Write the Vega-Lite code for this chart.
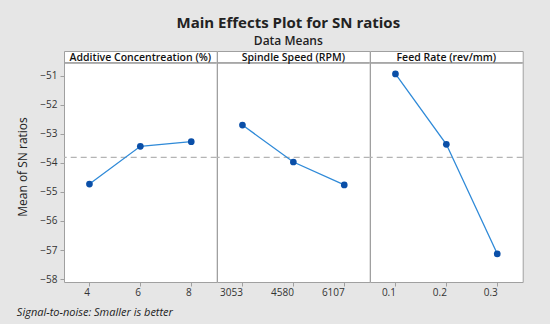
{
  "$schema": "https://vega.github.io/schema/vega-lite/v6.json",
  "background": "#e6e6e6",
  "padding": {"left": 16, "top": 15, "right": 26, "bottom": 6},
  "config": {
    "font": "Open Sans",
    "view": {"fill": "white", "stroke": "#a0a0a0", "strokeWidth": 1}
  },
  "title": {
    "text": "Signal-to-noise: Smaller is better",
    "orient": "bottom",
    "anchor": "start",
    "frame": "bounds",
    "fontSize": 11,
    "fontStyle": "italic",
    "fontWeight": "normal",
    "color": "#222",
    "offset": 9,
    "dx": 0
  },
  "vconcat": [
    {
      "title": {
        "text": "Main Effects Plot for SN ratios",
        "subtitle": "Data Means",
        "anchor": "middle",
        "frame": "bounds",
        "fontSize": 15,
        "fontWeight": "bold",
        "color": "#222",
        "subtitleFontSize": 12,
        "subtitleFontWeight": 600,
        "subtitleColor": "#222",
        "subtitlePadding": 5,
        "offset": 4,
        "dx": 18
      },
      "data": {
        "values": [
          {"factor": "Additive Concentreation (%)", "level": "4", "sn": -54.73},
          {"factor": "Additive Concentreation (%)", "level": "6", "sn": -53.43},
          {"factor": "Additive Concentreation (%)", "level": "8", "sn": -53.27},
          {"factor": "Spindle Speed (RPM)", "level": "3053", "sn": -52.70},
          {"factor": "Spindle Speed (RPM)", "level": "4580", "sn": -53.97},
          {"factor": "Spindle Speed (RPM)", "level": "6107", "sn": -54.76},
          {"factor": "Feed Rate (rev/mm)", "level": "0.1", "sn": -50.94},
          {"factor": "Feed Rate (rev/mm)", "level": "0.2", "sn": -53.36},
          {"factor": "Feed Rate (rev/mm)", "level": "0.3", "sn": -57.13}
        ]
      },
      "facet": {
        "column": {
          "field": "factor",
          "type": "nominal",
          "sort": ["Additive Concentreation (%)", "Spindle Speed (RPM)", "Feed Rate (rev/mm)"],
          "title": null,
          "header": {"labels": false}
        }
      },
      "spacing": 0,
      "bounds": "flush",
      "resolve": {"scale": {"x": "independent"}},
      "spec": {
        "width": 152.7,
        "height": 231,
        "layer": [
          {
            "mark": {"type": "rule", "color": "#a0a0a0", "strokeWidth": 1},
            "encoding": {"y": {"datum": -50.56, "type": "quantitative"}}
          },
          {
            "transform": [{"aggregate": [{"op": "count", "as": "n"}], "groupby": ["factor"]}],
            "mark": {"type": "text", "fontSize": 10.5, "fontWeight": 600, "color": "#111", "baseline": "middle", "align": "center", "dy": 1},
            "encoding": {
              "y": {"datum": -50.35, "type": "quantitative"},
              "text": {"field": "factor", "type": "nominal"}
            }
          },
          {
            "mark": {"type": "rule", "color": "#b4b4b4", "strokeWidth": 1.2, "strokeDash": [6, 4]},
            "encoding": {"y": {"aggregate": "mean", "field": "sn", "type": "quantitative"}}
          },
          {
            "mark": {"type": "line", "color": "#2f8ad8", "strokeWidth": 1.3},
            "encoding": {
              "x": {"field": "level", "type": "ordinal"},
              "y": {"field": "sn", "type": "quantitative"}
            }
          },
          {
            "mark": {"type": "point", "filled": true, "opacity": 1, "color": "#0a4fa8", "size": 45},
            "encoding": {
              "x": {
                "field": "level",
                "type": "ordinal",
                "title": null,
                "scale": {"type": "point", "padding": 0.5},
                "axis": {
                  "labelAngle": 0,
                  "labelFontSize": 10,
                  "labelColor": "#333",
                  "domain": false,
                  "tickColor": "#a0a0a0",
                  "tickSize": 4,
                  "labelPadding": 6
                }
              },
              "y": {
                "field": "sn",
                "type": "quantitative",
                "title": "Mean of SN ratios",
                "scale": {"domain": [-58.1, -50.15], "nice": false, "zero": false},
                "axis": {
                  "values": [-58, -57, -56, -55, -54, -53, -52, -51],
                  "tickCount": 8,
                  "labelOverlap": false,
                  "grid": false,
                  "domain": false,
                  "tickColor": "#a0a0a0",
                  "tickSize": 4,
                  "labelFontSize": 10,
                  "labelColor": "#333",
                  "labelPadding": 3,
                  "titleFontSize": 12,
                  "titleFontWeight": "normal",
                  "titleColor": "#222",
                  "titlePadding": 10
                }
              }
            }
          }
        ]
      }
    }
  ]
}
